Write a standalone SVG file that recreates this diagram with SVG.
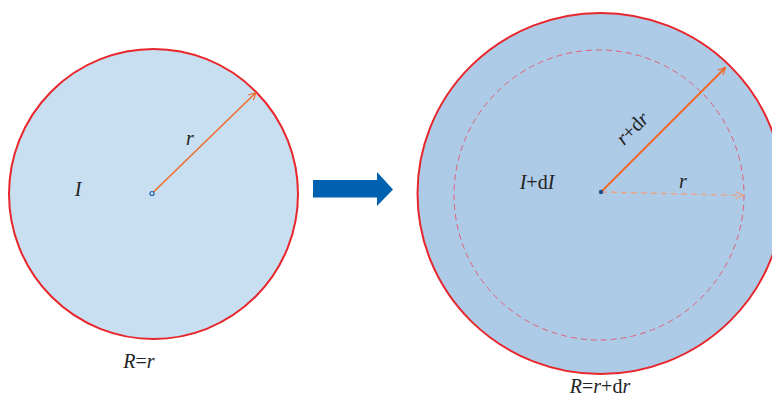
<svg xmlns="http://www.w3.org/2000/svg" width="772" height="399" viewBox="0 0 772 399">
<defs>
<style>
text{font-family:'Liberation Serif','Times New Roman',serif;font-size:20px;fill:#222}
.i{font-style:italic}
.rim{stroke:#e8262c;stroke-width:2}
</style>
<marker id="ah" viewBox="0 0 10 10" refX="9" refY="5" markerWidth="9" markerHeight="9" orient="auto" markerUnits="userSpaceOnUse">
<path d="M1,1 L9,5 L1,9" fill="none" stroke="#f06a28" stroke-width="1.3"/>
</marker>
<marker id="ah2" viewBox="0 0 10 10" refX="9" refY="5" markerWidth="9" markerHeight="9" orient="auto" markerUnits="userSpaceOnUse">
<path d="M1,1 L9,5 L1,9" fill="none" stroke="#f0a080" stroke-width="1.3"/>
</marker>
</defs>
<rect width="772" height="399" fill="#fff"/>
<g id="left">
<ellipse cx="153.5" cy="194" rx="144.5" ry="145" fill="#c8dff1" class="rim"/>
<text font-family="Liberation Serif, serif" x="78" y="196" text-anchor="middle" class="i">I</text>
<text font-family="Liberation Serif, serif" x="139" y="368" text-anchor="middle"><tspan class="i">R</tspan>=<tspan class="i">r</tspan></text>
<text font-family="Liberation Serif, serif" x="190" y="145" text-anchor="middle" class="i">r</text>
</g>
<g id="blue-arrow">
<polygon points="313,180 377,180 377,172 393,189.5 377,206 377,197.5 313,197.5" fill="#0061b0"/>
</g>
<g id="right">
<ellipse cx="600.5" cy="193.5" rx="183" ry="180.5" fill="#adcbe7" class="rim"/>
<circle cx="599" cy="195" r="145" fill="none" stroke="#e0607a" stroke-width="1" stroke-dasharray="6,4"/>
<text font-family="Liberation Serif, serif" x="537" y="189" text-anchor="middle"><tspan class="i">I</tspan>+d<tspan class="i">I</tspan></text>
<text font-family="Liberation Serif, serif" x="683" y="188" text-anchor="middle" class="i">r</text>
<text font-family="Liberation Serif, serif" x="0" y="0" text-anchor="middle" transform="translate(637,133) rotate(-45)"><tspan class="i">r</tspan>+d<tspan class="i">r</tspan></text>
<text font-family="Liberation Serif, serif" x="600" y="393" text-anchor="middle"><tspan class="i">R</tspan>=<tspan class="i">r</tspan>+d<tspan class="i">r</tspan></text>
</g>
<g id="connectors">
<line x1="152" y1="193.5" x2="256" y2="92.5" stroke="#f06a28" stroke-width="1.5" marker-end="url(#ah)"/>
<line x1="601" y1="192" x2="725.5" y2="67.5" stroke="#f06a28" stroke-width="2" marker-end="url(#ah)"/>
<line x1="601" y1="192" x2="743" y2="195.5" stroke="#f0a080" stroke-width="1.3" stroke-dasharray="6,4" marker-end="url(#ah2)"/>
<circle cx="152" cy="193.5" r="2" fill="#c8dff1" stroke="#1c64b0" stroke-width="1.2"/>
<circle cx="601" cy="192" r="2.2" fill="#1c4f90"/>
</g>
</svg>
